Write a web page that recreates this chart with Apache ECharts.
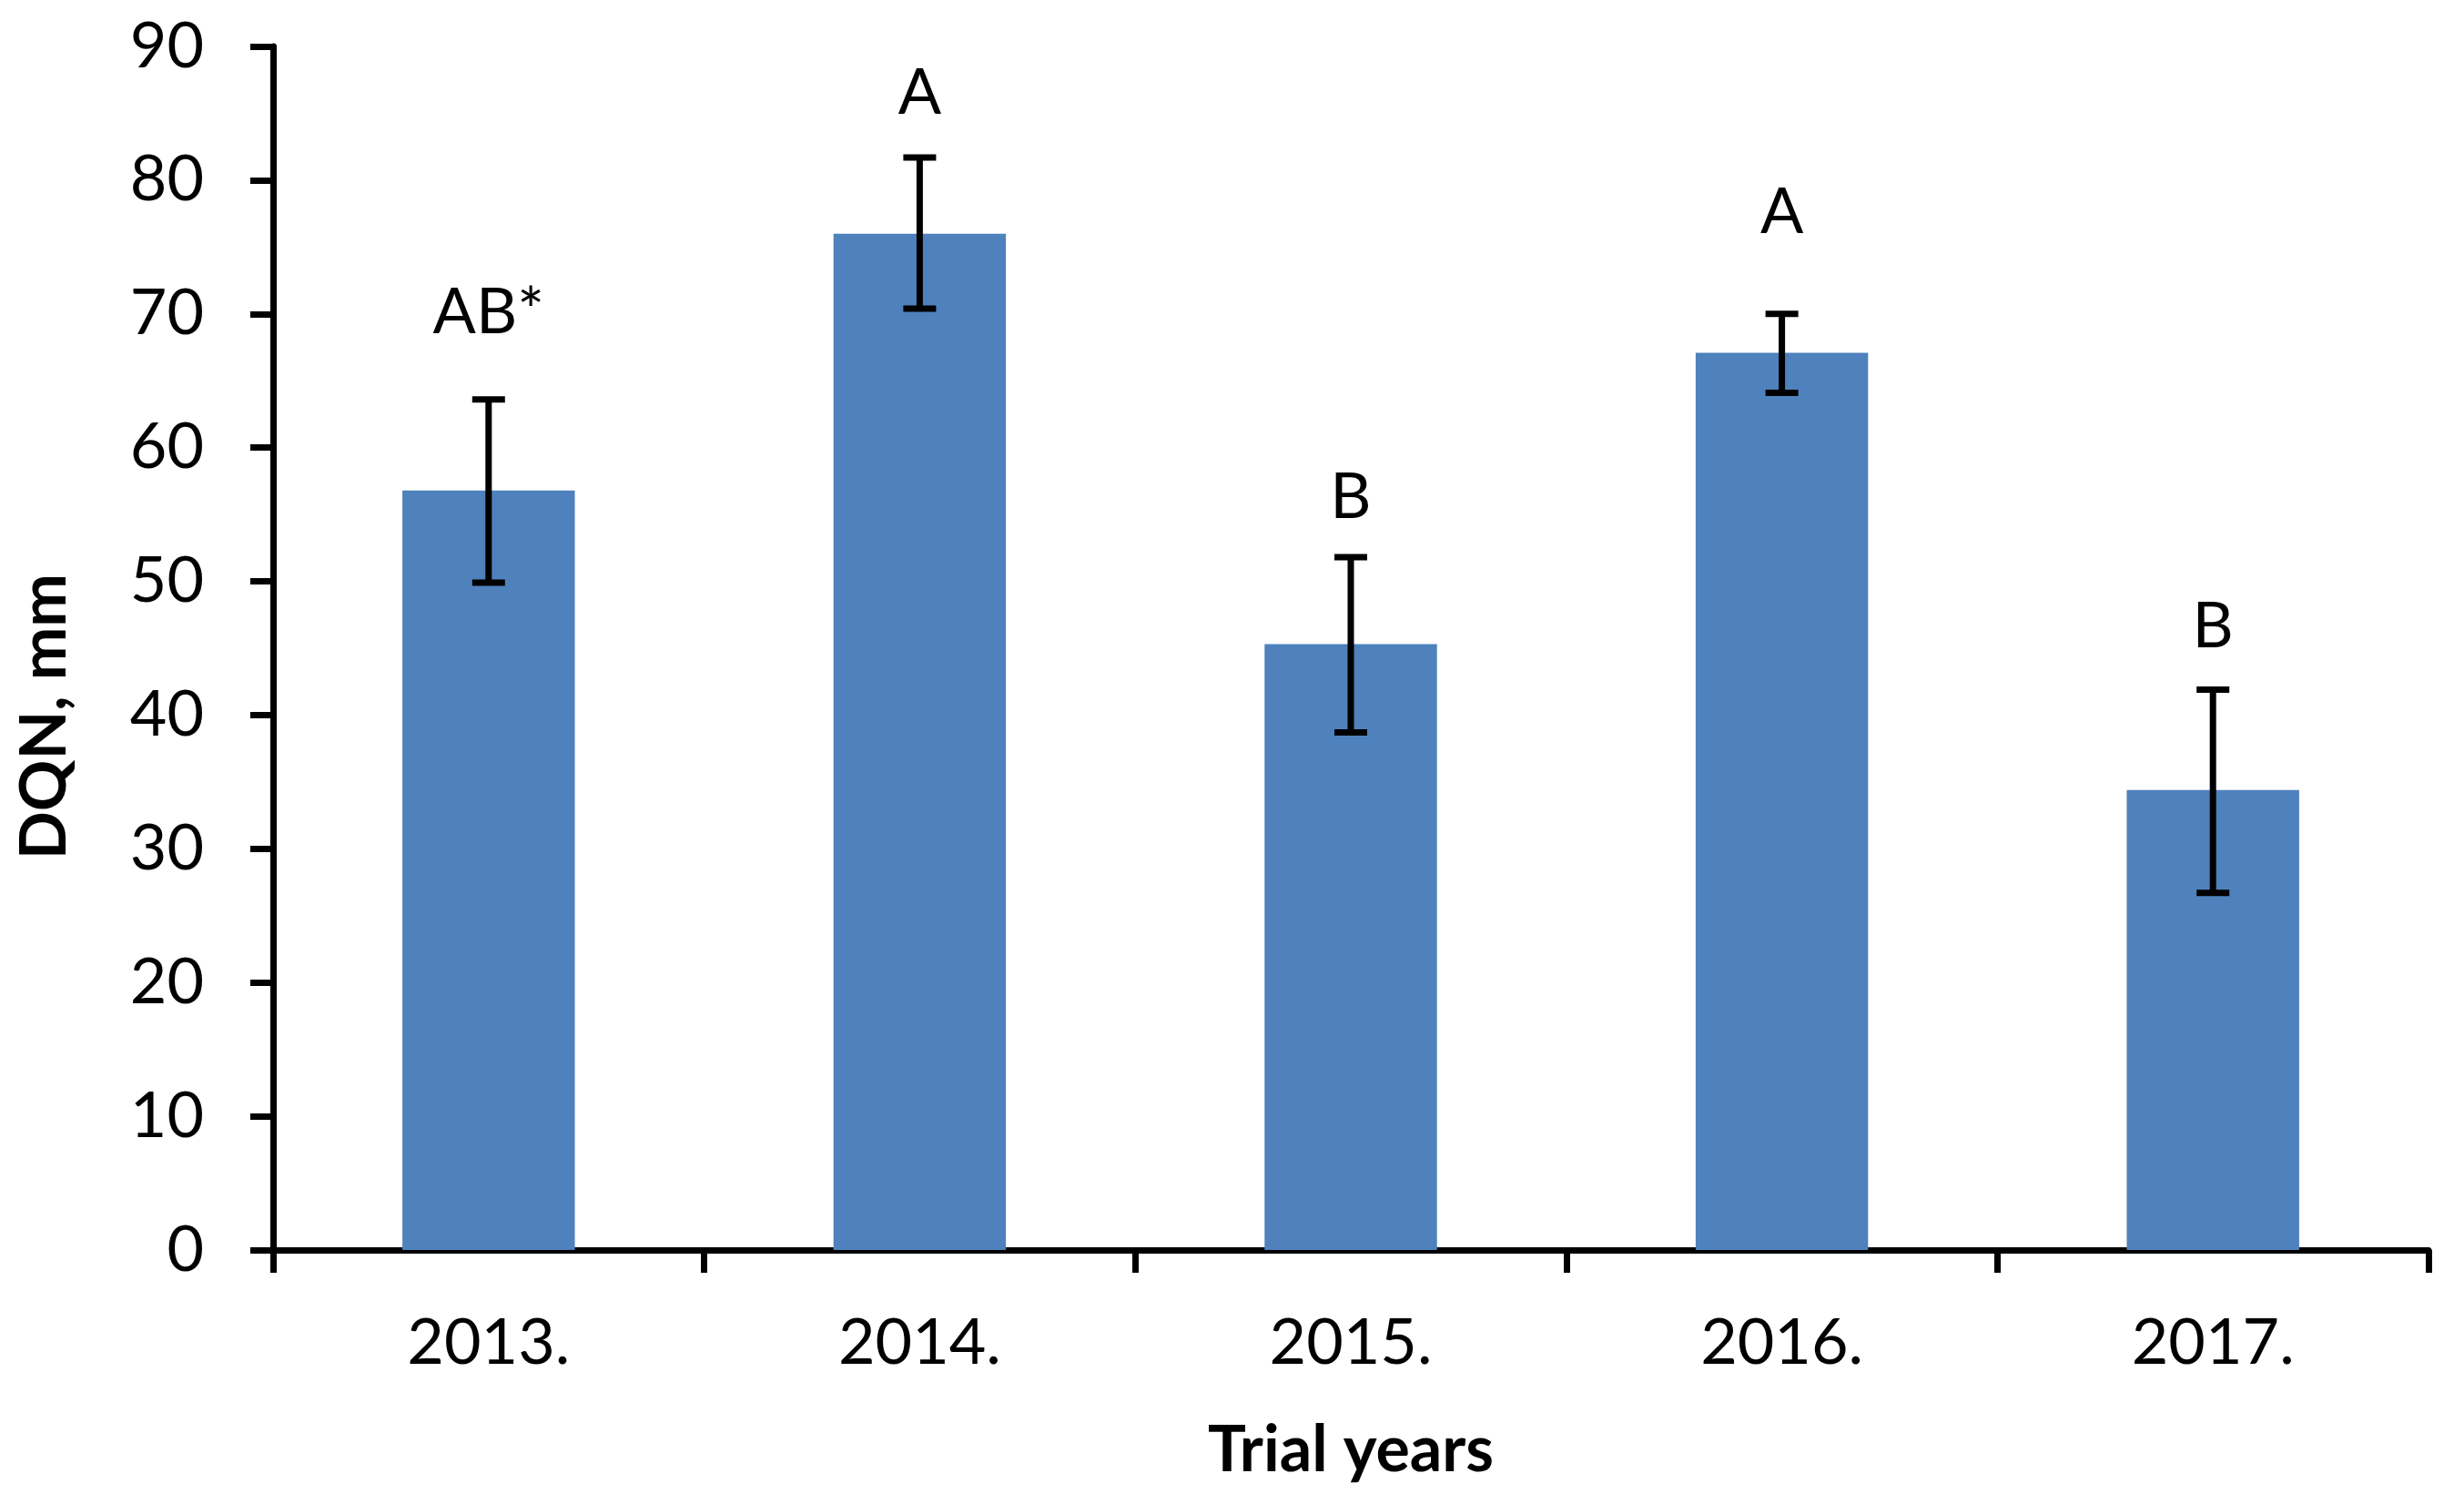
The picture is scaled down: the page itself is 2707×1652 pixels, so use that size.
<!DOCTYPE html>
<html>
<head>
<meta charset="utf-8">
<script src="https://cdn.jsdelivr.net/npm/echarts@6/dist/echarts.min.js"></script>
<style>
html,body{margin:0;padding:0;background:#fff;}
#chart{width:2707px;height:1652px;}
</style>
</head>
<body>
<div id="chart"></div>
<script>
var categories = ['2013.', '2014.', '2015.', '2016.', '2017.'];
var dqnMean = [56.8, 76.0, 45.3, 67.1, 34.4];
var errLow = [49.9, 70.4, 38.7, 64.1, 26.7];
var errHigh = [63.6, 81.7, 51.8, 70.0, 41.9];
var letters = ['AB*', 'A', 'B', 'A', 'B'];
var letterPos = [70.1, 86.5, 56.3, 77.6, 46.6];
var yTicks = [0, 10, 20, 30, 40, 50, 60, 70, 80, 90];

var FONT = 'Lato';
var chart = echarts.init(document.getElementById('chart'));

var errData = categories.map(function (c, i) { return [i, errLow[i], errHigh[i]]; });
var letterData = categories.map(function (c, i) { return [i, letterPos[i], letters[i]]; });

chart.setOption({
  animation: false,
  backgroundColor: '#ffffff',
  grid: { left: 300, right: 39, top: 51, bottom: 279, containLabel: false },
  xAxis: {
    type: 'category',
    data: categories,
    boundaryGap: true,
    axisLine: { lineStyle: { color: '#000', width: 7 } },
    axisTick: { show: true, length: 25, lineStyle: { color: '#000', width: 7 } },
    axisLabel: { color: '#000', fontFamily: FONT, fontSize: 70, margin: 67 },
    name: 'Trial years',
    nameLocation: 'middle',
    nameGap: 185,
    nameTextStyle: { color: '#000', fontFamily: FONT, fontSize: 70, fontWeight: 'bold' }
  },
  yAxis: {
    type: 'value',
    min: yTicks[0],
    max: yTicks[yTicks.length - 1],
    interval: 10,
    splitLine: { show: false },
    axisLine: { show: true, lineStyle: { color: '#000', width: 7 } },
    axisTick: { show: true, length: 25, lineStyle: { color: '#000', width: 7 } },
    axisLabel: { color: '#000', fontFamily: FONT, fontSize: 70, margin: 76 }
  },
  graphic: [{
    type: 'text',
    left: 14,
    top: 630,
    rotation: Math.PI / 2,
    style: { text: 'DQN, mm', fill: '#000', font: 'bold 70px ' + FONT }
  }],
  series: [{
    type: 'bar',
    data: dqnMean,
    barWidth: '40%',
    itemStyle: { color: '#4F81BD' }
  }, {
    type: 'custom',
    data: errData,
    z: 5,
    renderItem: function (params, api) {
      var x = api.value(0);
      var lo = api.coord([x, api.value(1)]);
      var hi = api.coord([x, api.value(2)]);
      var hw = 18;
      var st = { stroke: '#000', lineWidth: 7 };
      return {
        type: 'group',
        children: [
          { type: 'line', shape: { x1: hi[0], y1: hi[1], x2: lo[0], y2: lo[1] }, style: st },
          { type: 'line', shape: { x1: hi[0] - hw, y1: hi[1], x2: hi[0] + hw, y2: hi[1] }, style: st },
          { type: 'line', shape: { x1: lo[0] - hw, y1: lo[1], x2: lo[0] + hw, y2: lo[1] }, style: st }
        ]
      };
    }
  }, {
    type: 'custom',
    data: letterData,
    z: 6,
    renderItem: function (params, api) {
      var p = api.coord([api.value(0), api.value(1)]);
      return {
        type: 'text',
        x: p[0], y: p[1],
        style: {
          text: letters[params.dataIndex],
          fill: '#000',
          font: '70px ' + FONT,
          align: 'center',
          verticalAlign: 'middle'
        }
      };
    }
  }]
});
</script>
</body>
</html>
